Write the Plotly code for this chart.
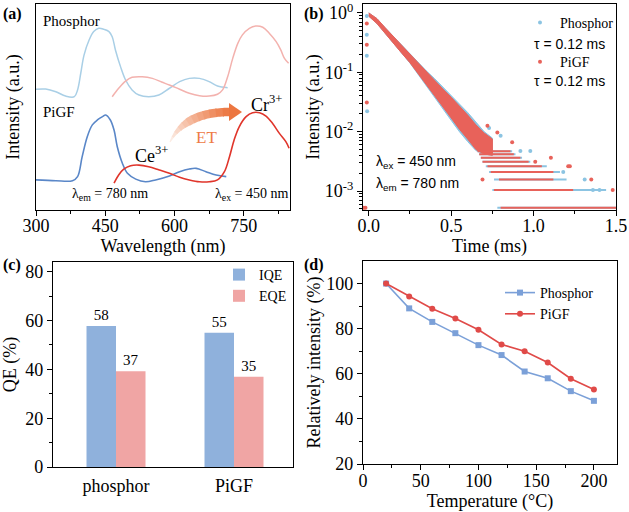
import plotly.graph_objects as go

# ---------------- data ----------------
# (a) spectra  (wavelength nm, normalised/offset intensity)
a_ph_exc_wl = [300, 321, 343, 364, 383, 390, 397, 404, 415, 425, 436, 447, 458, 465, 472, 483, 494, 508, 523, 544, 566, 589, 611, 632, 654, 675, 693, 715]
a_ph_exc_i = [0.586, 0.587, 0.574, 0.553, 0.550, 0.583, 0.665, 0.752, 0.825, 0.866, 0.882, 0.877, 0.866, 0.841, 0.777, 0.696, 0.631, 0.583, 0.558, 0.550, 0.558, 0.591, 0.623, 0.639, 0.639, 0.623, 0.602, 0.594]
a_ph_em_wl = [465, 479, 494, 508, 530, 552, 572, 589, 611, 632, 654, 675, 693, 704, 715, 726, 737, 747, 762, 776, 791, 805, 820, 830, 838, 847]
a_ph_em_i = [0.550, 0.591, 0.626, 0.644, 0.647, 0.639, 0.621, 0.607, 0.586, 0.567, 0.555, 0.553, 0.562, 0.583, 0.647, 0.736, 0.809, 0.850, 0.882, 0.893, 0.887, 0.858, 0.817, 0.777, 0.736, 0.712]
a_pg_exc_wl = [300, 343, 379, 390, 400, 411, 422, 433, 444, 451, 461, 469, 476, 487, 498, 516, 537, 559, 589, 611, 632, 647, 668, 690, 712]
a_pg_exc_i = [0.146, 0.142, 0.142, 0.162, 0.259, 0.356, 0.413, 0.437, 0.453, 0.461, 0.437, 0.388, 0.307, 0.227, 0.178, 0.150, 0.137, 0.146, 0.165, 0.186, 0.199, 0.202, 0.186, 0.170, 0.162]
a_pg_em_wl = [469, 479, 490, 505, 523, 544, 567, 589, 611, 632, 654, 675, 693, 708, 719, 729, 740, 755, 769, 784, 798, 812, 827, 841, 848]
a_pg_em_i = [0.130, 0.170, 0.198, 0.215, 0.218, 0.210, 0.194, 0.178, 0.159, 0.146, 0.137, 0.137, 0.146, 0.186, 0.259, 0.340, 0.404, 0.453, 0.472, 0.472, 0.456, 0.421, 0.372, 0.332, 0.300]

# (b) decay: dense band envelopes (time ms, normalised intensity)
b_band_t = [0.0, 0.05, 0.10, 0.15, 0.20, 0.25, 0.30, 0.35, 0.40, 0.45, 0.50, 0.55, 0.60, 0.65, 0.70, 0.75]
b_pg_hi = [1.0, 0.80, 0.56, 0.40, 0.285, 0.20, 0.145, 0.10, 0.072, 0.052, 0.038, 0.027, 0.019, 0.013, 0.0095, 0.0075]
b_pg_lo = [0.88, 0.66, 0.45, 0.31, 0.21, 0.145, 0.095, 0.063, 0.040, 0.026, 0.017, 0.011, 0.0075, 0.0050, 0.0042, 0.0040]
b_ph_hi = [1.0, 0.80, 0.56, 0.40, 0.29, 0.205, 0.15, 0.105, 0.078, 0.056, 0.041, 0.029, 0.021, 0.0145, 0.010, 0.0078]
b_ph_lo = [0.88, 0.66, 0.45, 0.31, 0.21, 0.143, 0.092, 0.060, 0.038, 0.024, 0.0155, 0.010, 0.0068, 0.0048, 0.0042, 0.0040]
# (b) photon-count floor rows: level, start, end
b_row_level = [0.00052, 0.00104, 0.00156, 0.00208, 0.0026, 0.00312, 0.00364, 0.00416, 0.00468]
b_pg_row_start = [0.80, 0.76, 0.79, 0.74, 0.72, 0.69, 0.68, 0.67, 0.66]
b_pg_row_end = [1.50, 1.24, 1.12, 1.12, 1.05, 0.97, 0.92, 0.88, 0.86]
b_ph_row_start = [0.78, 0.75, 0.76, 0.73, 0.71, 0.69, 0.68, 0.67, 0.66]
b_ph_row_end = [1.50, 1.44, 1.20, 1.16, 1.08, 0.98, 0.93, 0.89, 0.87]
# (b) isolated points
b_ph_pts_t = [-0.012, -0.012, -0.012, -0.010, 0.98, 0.92, 1.18, 1.31, 1.36, 1.40, 0.73, 0.80]
b_ph_pts_i = [0.89, 0.43, 0.19, 0.022, 0.0047, 0.0047, 0.00208, 0.00156, 0.00104, 0.00104, 0.0115, 0.0085]
b_pg_pts_t = [-0.012, -0.012, -0.012, -0.030, -0.020, 0.72, 0.78, 0.87, 1.105, 1.22, 1.35, 0.69, 1.01, 1.48, 1.21]
b_pg_pts_i = [0.66, 0.29, 0.031, 0.00052, 0.00052, 0.0126, 0.0097, 0.0066, 0.00364, 0.0026, 0.00156, 0.00156, 0.00312, 0.00104, 0.0026]

# (c) quantum efficiency
c_categories = ["phosphor", "PiGF"]
c_iqe = [57.8, 55.0]
c_eqe = [39.2, 37.0]
c_iqe_labels = ["58", "55"]
c_eqe_labels = ["37", "35"]

# (d) thermal stability
d_temp = [20, 40, 60, 80, 100, 120, 140, 160, 180, 200]
d_phosphor = [100, 89.0, 83.0, 78.0, 72.7, 68.3, 61.0, 58.0, 52.3, 48.0]
d_pigf = [100, 94.3, 88.8, 84.5, 79.5, 73.0, 70.0, 65.0, 57.8, 53.0]

# ---------------- helpers ----------------
W, H = 629, 512
def px(x):
    return x / W
def py(y):
    return 1 - y / H

SERIF = "'Liberation Serif', 'Times New Roman', Times, 'DejaVu Serif', serif"
SANS = "'Liberation Sans', Arial, Helvetica, sans-serif"
BLACK = "#000000"

fig = go.Figure()

# ----- (a) -----
fig.add_trace(go.Scatter(x=a_ph_exc_wl, y=a_ph_exc_i, mode="lines", line=dict(color="#a9cfe6", width=1.5, shape="spline"), showlegend=False, xaxis="x", yaxis="y"))
fig.add_trace(go.Scatter(x=a_ph_em_wl, y=a_ph_em_i, mode="lines", line=dict(color="#f3b2ae", width=1.5, shape="spline"), showlegend=False, xaxis="x", yaxis="y"))
fig.add_trace(go.Scatter(x=a_pg_exc_wl, y=a_pg_exc_i, mode="lines", line=dict(color="#5a87c8", width=1.6, shape="spline"), showlegend=False, xaxis="x", yaxis="y"))
fig.add_trace(go.Scatter(x=a_pg_em_wl, y=a_pg_em_i, mode="lines", line=dict(color="#e0352b", width=1.6, shape="spline"), showlegend=False, xaxis="x", yaxis="y"))

# ----- (b) -----
BLUE_B = "#8cc4e2"
RED_B = "#e8625a"

def rows_xy(levels, starts, ends):
    xs, ys = [], []
    for lv, s, e in zip(levels, starts, ends):
        xs += [s, e, None]
        ys += [lv, lv, None]
    return xs, ys

for (hi, lo, rs, re_, pts_t, pts_i, col, name, grp) in [
    (b_ph_hi, b_ph_lo, b_ph_row_start, b_ph_row_end, b_ph_pts_t, b_ph_pts_i, BLUE_B, "Phosphor", "g1"),
    (b_pg_hi, b_pg_lo, b_pg_row_start, b_pg_row_end, b_pg_pts_t, b_pg_pts_i, RED_B, "PiGF", "g2"),
]:
    fig.add_trace(go.Scatter(x=b_band_t + b_band_t[::-1], y=hi + lo[::-1], mode="lines", fill="toself",
                             fillcolor=col, line=dict(color=col, width=1), showlegend=False,
                             xaxis="x2", yaxis="y2", legendgroup=grp))
    rx, ry = rows_xy(b_row_level, rs, re_)
    fig.add_trace(go.Scatter(x=rx, y=ry, mode="lines", line=dict(color=col, width=2.0), showlegend=False,
                             xaxis="x2", yaxis="y2", legendgroup=grp, connectgaps=False))
    fig.add_trace(go.Scatter(x=pts_t, y=pts_i, mode="markers", marker=dict(color=col, size=4), name=name,
                             xaxis="x2", yaxis="y2", legend="legend", legendgroup=grp, cliponaxis=True))

# ----- (c) -----
fig.add_trace(go.Bar(x=c_categories, y=c_iqe, name="IQE", marker=dict(color="#8fb1dc", line=dict(width=0)),
                     text=c_iqe_labels, textposition="outside", textfont=dict(family=SERIF, size=15, color=BLACK),
                     cliponaxis=False, xaxis="x3", yaxis="y3", legend="legend2"))
fig.add_trace(go.Bar(x=c_categories, y=c_eqe, name="EQE", marker=dict(color="#f0a5a4", line=dict(width=0)),
                     text=c_eqe_labels, textposition="outside", textfont=dict(family=SERIF, size=15, color=BLACK),
                     cliponaxis=False, xaxis="x3", yaxis="y3", legend="legend2"))

# ----- (d) -----
fig.add_trace(go.Scatter(x=d_temp, y=d_phosphor, mode="lines+markers", name="Phosphor",
                         line=dict(color="#7ba0d8", width=1.6), marker=dict(symbol="square", size=6, color="#7ba0d8"),
                         xaxis="x4", yaxis="y4", legend="legend3"))
fig.add_trace(go.Scatter(x=d_temp, y=d_pigf, mode="lines+markers", name="PiGF",
                         line=dict(color="#e04a48", width=1.6), marker=dict(symbol="circle", size=6, color="#e04a48"),
                         xaxis="x4", yaxis="y4", legend="legend3"))

# ---------------- axes ----------------
TICKF = dict(family=SERIF, size=18, color=BLACK)
TITLEF = dict(family=SERIF, size=18, color=BLACK)

def base_axis(**kw):
    d = dict(showline=True, linecolor=BLACK, linewidth=1.3, mirror=True, showgrid=False, zeroline=False,
             ticks="outside", ticklen=5, tickwidth=1.2, tickcolor=BLACK, tickfont=TICKF, automargin=False)
    d.update(kw)
    return d

A_X = [36 / W, 290 / W]
A_Y = [1 - 210 / H, 1 - 4 / H]
B_X = [363 / W, 616 / W]
C_X = [53 / W, 293 / W]
C_Y = [1 - 467 / H, 1 - 262 / H]
D_X = [363 / W, 617 / W]
D_Y = [1 - 464 / H, 1 - 261 / H]

minor = lambda vals: dict(tickvals=vals, ticks="outside", ticklen=3, tickwidth=1, tickcolor=BLACK)

log_minor = []
for dec in [0.0001, 0.001, 0.01, 0.1]:
    for k in range(2, 10):
        log_minor.append(k * dec)

fig.update_layout(
    xaxis=base_axis(domain=A_X, anchor="y", range=[300, 850], tickvals=[300, 450, 600, 750],
                    minor=minor([375, 525, 675, 825]), ticklabelstandoff=-6,
                    title=dict(text="Wavelength (nm)", font=TITLEF, standoff=4)),
    yaxis=base_axis(domain=A_Y, anchor="x", range=[0, 1], showticklabels=False, ticks="",
                    title=dict(text="Intensity (a.u.)", font=TITLEF, standoff=10)),
    xaxis2=base_axis(domain=B_X, anchor="y2", range=[-0.035, 1.5], tickvals=[0, 0.5, 1.0, 1.5],
                     ticktext=["0.0", "0.5", "1.0", "1.5"], minor=minor([0.25, 0.75, 1.25]), ticklabelstandoff=-6,
                     title=dict(text="Time (ms)", font=TITLEF, standoff=4)),
    yaxis2=base_axis(domain=A_Y, anchor="x2", type="log", range=[-3.32, 0.15],
                     tickvals=[0.001, 0.01, 0.1, 1], ticktext=["10<sup>-3</sup>", "10<sup>-2</sup>", "10<sup>-1</sup>", "10<sup>0</sup>"],
                     minor=minor(log_minor),
                     title=dict(text="Intensity (a.u.)", font=TITLEF, standoff=0)),
    xaxis3=base_axis(domain=C_X, anchor="y3", range=[-0.534, 1.5], ticks="", ticklabelstandoff=2,
                     title=dict(text="", font=TITLEF)),
    yaxis3=base_axis(domain=C_Y, anchor="x3", range=[0, 84], tickvals=[0, 20, 40, 60, 80],
                     minor=minor([10, 30, 50, 70]),
                     title=dict(text="QE (%)", font=TITLEF, standoff=6)),
    xaxis4=base_axis(domain=D_X, anchor="y4", range=[0, 220], tickvals=[0, 50, 100, 150, 200],
                     minor=minor([25, 75, 125, 175]), ticklabelstandoff=-5,
                     title=dict(text="Temperature (°C)", font=TITLEF, standoff=8)),
    yaxis4=base_axis(domain=D_Y, anchor="x4", range=[20, 110], tickvals=[20, 40, 60, 80, 100],
                     minor=minor([30, 50, 70, 90]),
                     title=dict(text="Relatively intensity (%)", font=TITLEF, standoff=0)),
    barmode="group", bargap=0.5, bargroupgap=0,
    width=W, height=H, margin=dict(l=0, r=0, t=0, b=0),
    paper_bgcolor="white", plot_bgcolor="white",
    font=dict(family=SERIF, color=BLACK),
    legend=dict(x=px(520), y=py(7), xanchor="left", yanchor="top", bgcolor="rgba(0,0,0,0)",
                font=dict(family=SERIF, size=14, color=BLACK), tracegroupgap=18, traceorder="grouped",
                itemwidth=30),
    legend2=dict(x=px(219), y=py(259), xanchor="left", yanchor="top", bgcolor="rgba(0,0,0,0)",
                 font=dict(family=SERIF, size=14, color=BLACK), tracegroupgap=0, itemwidth=30),
    legend3=dict(x=px(500), y=py(277), xanchor="left", yanchor="top", bgcolor="rgba(0,0,0,0)",
                 font=dict(family=SERIF, size=14, color=BLACK), itemwidth=30),
    showlegend=True,
)

# ---------------- annotations ----------------
ann = []
def text(x, y, s, size=15, family=SERIF, color=BLACK, xanchor="left", bold=False):
    if bold:
        s = "<b>" + s + "</b>"
    ann.append(dict(x=px(x), y=py(y), xref="paper", yref="paper", text=s, showarrow=False,
                    xanchor=xanchor, yanchor="middle", font=dict(family=family, size=size, color=color)))

text(1, 14, "(a)", 16, bold=True)
text(302, 14, "(b)", 16, bold=True)
text(1, 265, "(c)", 16, bold=True)
text(302, 265, "(d)", 16, bold=True)

text(41, 21, "Phosphor", 15)
text(41, 112, "PiGF", 15)
text(133, 154, "Ce<sup>3+</sup>", 18)
text(249, 103, "Cr<sup>3+</sup>", 18)
text(206, 137, "ET", 17, color="#ee7a45", xanchor="center")
text(110, 194, "λ<sub>em</sub> = 780 nm", 14, xanchor="center")
text(251, 194, "λ<sub>ex</sub> = 450 nm", 14, xanchor="center")

text(569, 44, "τ = 0.12 ms", 14, family=SANS, xanchor="center")
text(569, 81, "τ = 0.12 ms", 14, family=SANS, xanchor="center")
text(374, 162, "λ<sub>ex</sub> = 450 nm", 14, family=SANS)
text(374, 184, "λ<sub>em</sub> = 780 nm", 14, family=SANS)
fig.update_layout(annotations=ann)

# ---------------- ET arrow (decoration) ----------------
shapes = []
P0, P1, P2 = (170.0, 142.0), (185.0, 112.0), (230.0, 112.0)
def bez(t):
    x = (1 - t) ** 2 * P0[0] + 2 * (1 - t) * t * P1[0] + t ** 2 * P2[0]
    y = (1 - t) ** 2 * P0[1] + 2 * (1 - t) * t * P1[1] + t ** 2 * P2[1]
    return x, y
def edge(t):
    x, y = bez(t)
    dx = 2 * (1 - t) * (P1[0] - P0[0]) + 2 * t * (P2[0] - P1[0])
    dy = 2 * (1 - t) * (P1[1] - P0[1]) + 2 * t * (P2[1] - P1[1])
    n = (dx * dx + dy * dy) ** 0.5
    nx, ny = -dy / n, dx / n
    w = 1.0 + 7.5 * min(1.0, t * 2.2)
    return (x + nx * w / 2, y + ny * w / 2), (x - nx * w / 2, y - ny * w / 2)

NSEG = 12
c0 = (253, 242, 236)
c1 = (236, 118, 64)
for i in range(NSEG):
    ta, tb = i / NSEG, min(1.0, (i + 1.15) / NSEG)
    steps = [ta + (tb - ta) * k / 4 for k in range(5)]
    ups = [edge(t)[0] for t in steps]
    los = [edge(t)[1] for t in steps]
    pts = ups + los[::-1]
    path = "M " + " L ".join(f"{px(x):.5f},{py(y):.5f}" for x, y in pts) + " Z"
    f = (i + 0.5) / NSEG
    col = tuple(int(c0[j] + (c1[j] - c0[j]) * f) for j in range(3))
    shapes.append(dict(type="path", path=path, xref="paper", yref="paper",
                       fillcolor=f"rgb{col}", line=dict(width=0), layer="above"))
head = [(229, 103), (242, 112), (229, 121)]
shapes.append(dict(type="path", xref="paper", yref="paper",
                   path="M " + " L ".join(f"{px(x):.5f},{py(y):.5f}" for x, y in head) + " Z",
                   fillcolor="rgb(236,118,64)", line=dict(width=0), layer="above"))
fig.update_layout(shapes=shapes)

fig.write_html("out.html", config={"displayModeBar": False},
               post_script="document.body.style.margin='0';document.body.style.overflow='hidden';")
